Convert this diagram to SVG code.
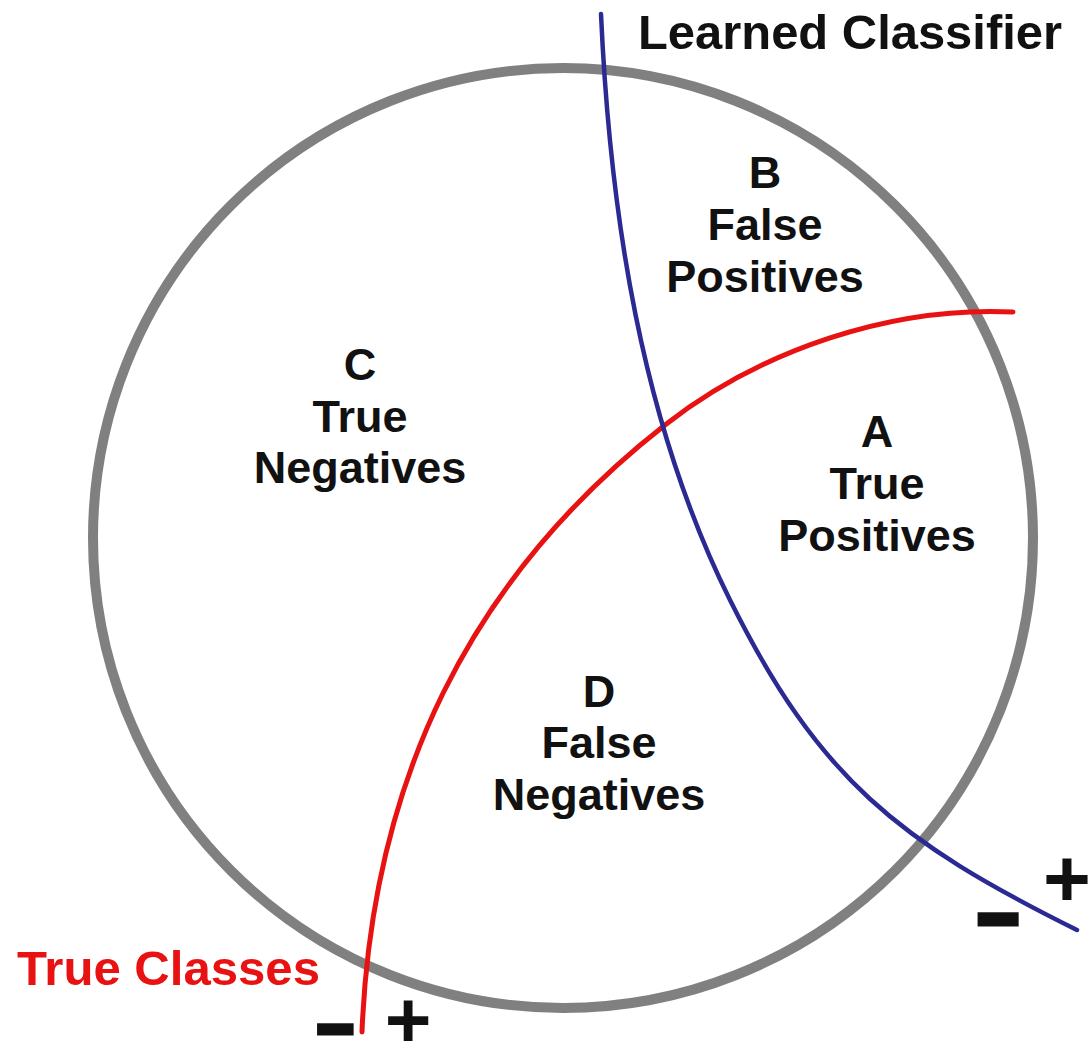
<svg xmlns="http://www.w3.org/2000/svg" width="1090" height="1041" viewBox="0 0 1090 1041">
<style>
.lbl{font-family:"Liberation Sans",Arial,sans-serif;font-weight:bold;font-size:45px;fill:#111;text-anchor:middle}
.title{font-family:"Liberation Sans",Arial,sans-serif;font-weight:bold;font-size:49px}
.sign{font-family:"Liberation Sans",Arial,sans-serif;font-weight:bold;fill:#111;stroke:#111;text-anchor:middle}
.curve{fill:none;stroke-linecap:round}
</style>
<rect width="1090" height="1041" fill="#ffffff"/>
<g id="universe">
<circle cx="563" cy="538" r="470" fill="none" stroke="#808080" stroke-width="10"/>
</g>
<g id="connectors">
<path id="true-classes-boundary" class="curve" d="M362,1032 C372,782 468,579 665,425 C761,350 891,306 1013,312" stroke="#e81212" stroke-width="5"/>
<path id="classifier-boundary" class="curve" d="M601,14 C610,213 641,421 730,600 C819,779 898,841 1077,930" stroke="#2a2a92" stroke-width="4.5"/>
</g>
<g id="label-learned-classifier"><text class="title" x="638" y="49" fill="#111" textLength="424" lengthAdjust="spacingAndGlyphs">Learned Classifier</text></g>
<g id="label-true-classes"><text class="title" x="17" y="985" fill="#e81212" textLength="303" lengthAdjust="spacingAndGlyphs">True Classes</text></g>
<g id="region-B"><text class="lbl"><tspan x="765" y="188">B</tspan><tspan x="765" y="240">False</tspan><tspan x="765" y="292">Positives</tspan></text></g>
<g id="region-C"><text class="lbl"><tspan x="360" y="380">C</tspan><tspan x="360" y="432">True</tspan><tspan x="360" y="483">Negatives</tspan></text></g>
<g id="region-A"><text class="lbl"><tspan x="877" y="447">A</tspan><tspan x="877" y="499">True</tspan><tspan x="877" y="551">Positives</tspan></text></g>
<g id="region-D"><text class="lbl"><tspan x="599" y="707">D</tspan><tspan x="599" y="758">False</tspan><tspan x="599" y="810">Negatives</tspan></text></g>
<g id="classifier-signs">
<text class="sign" x="1067" y="906" font-size="82" stroke-width="0">+</text>
<text class="sign" x="998" y="942" font-size="68" stroke-width="7">−</text>
</g>
<g id="true-class-signs">
<text class="sign" x="408" y="1047" font-size="80" stroke-width="0">+</text>
<text class="sign" x="335" y="1050" font-size="62" stroke-width="5.5">−</text>
</g>
</svg>
